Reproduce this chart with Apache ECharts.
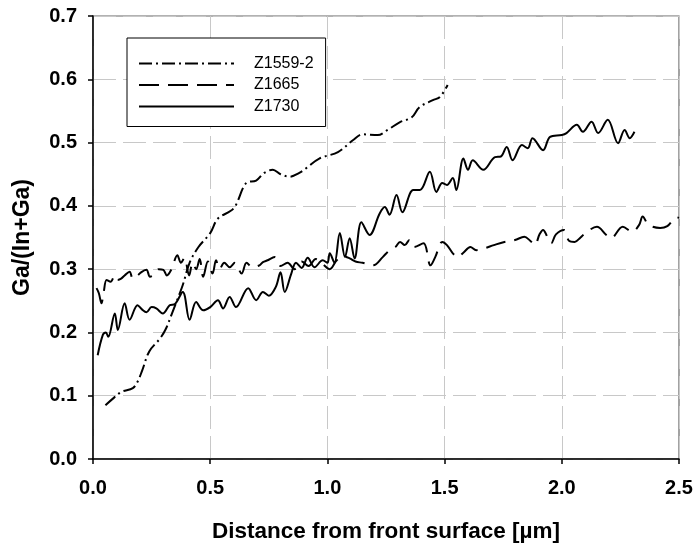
<!DOCTYPE html>
<html>
<head>
<meta charset="utf-8">
<script src="https://cdn.jsdelivr.net/npm/echarts@6/dist/echarts.min.js"></script>
<style>
  html, body { margin: 0; padding: 0; background: #fff; }
  #chart { width: 694px; height: 545px; }
</style>
</head>
<body>
<div id="chart"></div>
<script>
// Depth profiles of Ga/(In+Ga) for three samples
const seriesNames = ['Z1559-2', 'Z1665', 'Z1730'];

const z1559x = [0.053, 0.09, 0.121, 0.17, 0.19, 0.21, 0.24, 0.285, 0.31, 0.34, 0.383, 0.412, 0.45, 0.5, 0.533, 0.6, 0.653, 0.696, 0.73, 0.767, 0.8, 0.839, 0.88, 0.911, 0.967, 1.045, 1.11, 1.15, 1.215, 1.257, 1.308, 1.36, 1.393, 1.45, 1.48, 1.513];
const z1559y = [0.085, 0.097, 0.106, 0.112, 0.122, 0.14, 0.17, 0.19, 0.205, 0.233, 0.275, 0.31, 0.335, 0.357, 0.38, 0.396, 0.436, 0.44, 0.452, 0.457, 0.45, 0.446, 0.452, 0.46, 0.475, 0.485, 0.504, 0.513, 0.512, 0.52, 0.532, 0.54, 0.556, 0.567, 0.572, 0.591];

const z1665x = [0.015, 0.025, 0.036, 0.045, 0.058, 0.075, 0.093, 0.105, 0.12, 0.135, 0.156, 0.17, 0.185, 0.205, 0.228, 0.243, 0.256, 0.28, 0.3, 0.315, 0.335, 0.36, 0.375, 0.39, 0.41, 0.425, 0.44, 0.455, 0.47, 0.49, 0.51, 0.525, 0.54, 0.56, 0.583, 0.605, 0.634, 0.655, 0.68, 0.71, 0.725, 0.745, 0.775, 0.8, 0.83, 0.86, 0.89, 0.92, 0.95, 0.98, 1.01, 1.04, 1.07, 1.095, 1.12, 1.15, 1.195, 1.236, 1.265, 1.29, 1.31, 1.33, 1.35, 1.37, 1.41, 1.44, 1.46, 1.49, 1.51, 1.535, 1.555, 1.58, 1.61, 1.635, 1.67, 1.71, 1.755, 1.8, 1.84, 1.865, 1.885, 1.905, 1.92, 1.94, 1.955, 1.975, 2.01, 2.03, 2.055, 2.08, 2.1, 2.15, 2.19, 2.21, 2.26, 2.3, 2.33, 2.345, 2.37, 2.42, 2.45, 2.49, 2.5];
const z1665y = [0.27, 0.262, 0.246, 0.262, 0.283, 0.28, 0.29, 0.283, 0.285, 0.29, 0.296, 0.285, 0.288, 0.295, 0.299, 0.288, 0.29, 0.3, 0.299, 0.29, 0.3, 0.322, 0.31, 0.318, 0.29, 0.31, 0.3, 0.316, 0.288, 0.312, 0.293, 0.314, 0.3, 0.31, 0.303, 0.31, 0.293, 0.31, 0.303, 0.306, 0.311, 0.314, 0.319, 0.305, 0.31, 0.3, 0.312, 0.305, 0.316, 0.308, 0.3, 0.314, 0.32, 0.317, 0.312, 0.31, 0.306, 0.319, 0.33, 0.335, 0.343, 0.338, 0.346, 0.335, 0.341, 0.306, 0.319, 0.343, 0.338, 0.325, 0.319, 0.326, 0.335, 0.33, 0.333, 0.338, 0.343, 0.346, 0.351, 0.345, 0.338, 0.355, 0.362, 0.35, 0.341, 0.355, 0.362, 0.345, 0.343, 0.35, 0.357, 0.367, 0.354, 0.349, 0.367, 0.359, 0.37, 0.383, 0.37, 0.365, 0.368, 0.382, 0.381];

const z1730x = [0.02, 0.042, 0.055, 0.065, 0.093, 0.106, 0.135, 0.156, 0.19, 0.21, 0.228, 0.25, 0.27, 0.298, 0.327, 0.35, 0.383, 0.412, 0.44, 0.47, 0.5, 0.533, 0.555, 0.583, 0.61, 0.662, 0.696, 0.725, 0.75, 0.78, 0.8, 0.818, 0.846, 0.866, 0.89, 0.916, 0.945, 0.98, 1.0, 1.01, 1.03, 1.053, 1.075, 1.095, 1.116, 1.145, 1.18, 1.223, 1.245, 1.265, 1.295, 1.32, 1.366, 1.395, 1.437, 1.465, 1.49, 1.51, 1.535, 1.55, 1.58, 1.6, 1.62, 1.665, 1.715, 1.74, 1.765, 1.79, 1.83, 1.855, 1.875, 1.92, 1.95, 2.0, 2.02, 2.064, 2.09, 2.127, 2.155, 2.196, 2.24, 2.268, 2.29, 2.31];
const z1730y = [0.164, 0.196, 0.2, 0.193, 0.23, 0.204, 0.246, 0.22, 0.243, 0.236, 0.232, 0.24, 0.238, 0.23, 0.243, 0.245, 0.264, 0.22, 0.248, 0.235, 0.24, 0.251, 0.238, 0.256, 0.24, 0.27, 0.251, 0.264, 0.258, 0.272, 0.295, 0.264, 0.293, 0.31, 0.302, 0.318, 0.303, 0.314, 0.31, 0.325, 0.31, 0.357, 0.319, 0.349, 0.317, 0.374, 0.354, 0.388, 0.398, 0.386, 0.417, 0.39, 0.425, 0.425, 0.454, 0.422, 0.436, 0.433, 0.444, 0.425, 0.475, 0.457, 0.472, 0.457, 0.477, 0.478, 0.493, 0.472, 0.496, 0.491, 0.507, 0.488, 0.509, 0.512, 0.515, 0.528, 0.517, 0.533, 0.515, 0.536, 0.499, 0.52, 0.507, 0.517];

const xTicks = [0, 0.5, 1.0, 1.5, 2.0, 2.5];
const yTicks = [0, 0.1, 0.2, 0.3, 0.4, 0.5, 0.6, 0.7];

const pairs = (xs, ys) => xs.map((x, i) => [x, ys[i]]);
const FONT = '"Liberation Sans", Arial, sans-serif';

const gridDash = { color: '#c8c8c8', width: 1, type: [23, 7] };

function lineSeries(name, data, dash) {
  return {
    name: name,
    type: 'line',
    data: data,
    smooth: 0.35,
    symbol: 'none',
    showSymbol: false,
    lineStyle: { color: '#000', width: 2, type: dash },
    itemStyle: { color: '#000' },
    animation: false
  };
}

const chart = echarts.init(document.getElementById('chart'), null, { renderer: 'canvas' });
chart.setOption({
  animation: false,
  backgroundColor: '#fff',
  grid: {
    left: 93, right: 15, top: 16, bottom: 86,
    outerBoundsMode: 'none',
    containLabel: false,
    show: true, borderColor: '#666', borderWidth: 1.2, backgroundColor: 'transparent'
  },
  legend: {
    left: 127, top: 38,
    orient: 'vertical',
    data: seriesNames,
    itemWidth: 95, itemHeight: 14, itemGap: 5.5,
    padding: [17.5, 12, 12, 11],
    backgroundColor: '#fff',
    borderColor: '#000', borderWidth: 1,
    borderRadius: 0,
    itemStyle: { opacity: 0, borderWidth: 0 },
    textStyle: { fontFamily: FONT, fontSize: 16, lineHeight: 14, color: '#000', padding: [0, 0, 0, 15] },
    selectedMode: false
  },
  xAxis: {
    type: 'value',
    min: xTicks[0], max: xTicks[xTicks.length - 1], interval: 0.5,
    name: 'Distance from front surface [µm]',
    nameLocation: 'middle', nameGap: 61,
    nameTextStyle: { fontFamily: FONT, fontSize: 22.5, fontWeight: 'bold', color: '#000' },
    axisLine: { show: true, onZero: false, lineStyle: { color: '#000', width: 1.5 } },
    axisTick: { show: true, inside: false, length: 5, lineStyle: { color: '#000', width: 1.5 } },
    axisLabel: {
      fontFamily: FONT, fontSize: 20, fontWeight: 'bold', color: '#000', margin: 19,
      formatter: v => v.toFixed(1)
    },
    splitLine: { show: true, lineStyle: gridDash }
  },
  yAxis: {
    type: 'value',
    min: yTicks[0], max: yTicks[yTicks.length - 1], interval: 0.1,
    name: 'Ga/(In+Ga)',
    nameLocation: 'middle', nameGap: 59, nameRotate: 90,
    nameTextStyle: { fontFamily: FONT, fontSize: 23, fontWeight: 'bold', color: '#000' },
    axisLine: { show: true, onZero: false, lineStyle: { color: '#000', width: 1.5 } },
    axisTick: { show: true, inside: false, length: 5, lineStyle: { color: '#000', width: 1.5 } },
    axisLabel: {
      fontFamily: FONT, fontSize: 20, fontWeight: 'bold', color: '#000', margin: 16,
      formatter: v => v.toFixed(1)
    },
    splitLine: { show: true, lineStyle: gridDash }
  },
  series: [
    lineSeries(seriesNames[0], pairs(z1559x, z1559y), [13, 4, 2, 4]),
    lineSeries(seriesNames[1], pairs(z1665x, z1665y), [20, 9]),
    lineSeries(seriesNames[2], pairs(z1730x, z1730y), 'solid')
  ]
});
</script>
</body>
</html>
